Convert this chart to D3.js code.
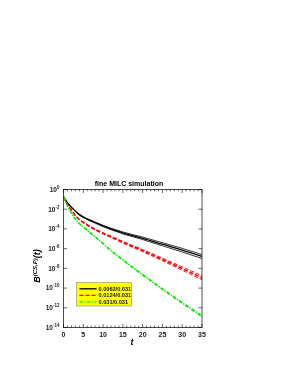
<!DOCTYPE html>
<html>
<head>
<meta charset="utf-8">
<script src="https://cdn.jsdelivr.net/npm/d3@7"></script>
<style>
  body { margin: 0; background: #fff; }
  svg { display: block; font-family: "Liberation Sans", Arial, sans-serif; will-change: transform; }
</style>
</head>
<body>
<div id="chart"></div>
<script>
// time slices
const tVals = [0, 1, 2, 3, 4, 5, 6, 8, 10, 12, 15, 20, 25, 30, 35];

// 0.0062/0.031 : central + two error band lines
const blackMid  = [1.78e-1, 4.47e-2, 1.58e-2, 6.31e-3, 2.82e-3, 1.58e-3, 1.0e-3, 4.47e-4, 2.0e-4, 1.0e-4, 3.98e-5, 1.12e-5, 2.82e-6, 7.08e-7, 1.58e-7];
const blackHigh = [1.78e-1, 4.47e-2, 1.58e-2, 6.61e-3, 3.02e-3, 1.74e-3, 1.10e-3, 5.01e-4, 2.24e-4, 1.17e-4, 4.90e-5, 1.48e-5, 3.98e-6, 1.07e-6, 2.51e-7];
const blackLow  = [1.78e-1, 4.37e-2, 1.51e-2, 6.03e-3, 2.63e-3, 1.45e-3, 8.91e-4, 3.89e-4, 1.70e-4, 8.32e-5, 3.16e-5, 8.32e-6, 1.95e-6, 4.57e-7, 1.0e-7];

// 0.0124/0.031
const redMid  = [1.78e-1, 3.16e-2, 7.94e-3, 2.24e-3, 8.91e-4, 4.47e-4, 2.51e-4, 8.91e-5, 3.55e-5, 1.58e-5, 4.47e-6, 6.31e-7, 7.94e-8, 9.55e-9, 1.12e-9];
const redHigh = [1.78e-1, 3.16e-2, 8.13e-3, 2.34e-3, 9.55e-4, 4.79e-4, 2.75e-4, 1.0e-4, 4.07e-5, 1.86e-5, 5.37e-6, 8.13e-7, 1.10e-7, 1.41e-8, 1.78e-9];
const redLow  = [1.78e-1, 3.16e-2, 7.76e-3, 2.14e-3, 8.32e-4, 4.17e-4, 2.29e-4, 7.94e-5, 3.09e-5, 1.35e-5, 3.72e-6, 4.90e-7, 5.75e-8, 6.46e-9, 7.08e-10];

// 0.031/0.031
const greenMid  = [1.78e-1, 2.24e-2, 3.98e-3, 1.0e-3, 3.55e-4, 1.58e-4, 7.08e-5, 1.58e-5, 3.16e-6, 6.31e-7, 7.08e-8, 2.24e-9, 7.94e-11, 3.16e-12, 1.41e-13];
const greenHigh = [1.78e-1, 2.24e-2, 3.98e-3, 1.02e-3, 3.63e-4, 1.66e-4, 7.41e-5, 1.66e-5, 3.39e-6, 6.76e-7, 7.76e-8, 2.51e-9, 9.12e-11, 3.72e-12, 1.70e-13];
const greenLow  = [1.78e-1, 2.24e-2, 3.98e-3, 9.77e-4, 3.47e-4, 1.51e-4, 6.76e-5, 1.51e-5, 2.95e-6, 5.89e-7, 6.46e-8, 2.0e-9, 6.92e-11, 2.69e-12, 1.17e-13];

const seriesNames = ["0.0062/0.031", "0.0124/0.031", "0.031/0.031"];
const xTicks = [0, 5, 10, 15, 20, 25, 30, 35];
const yExponents = [0, -2, -4, -6, -8, -10, -12, -14];

const W = 295, H = 382;
const pLeft = 63.5, pRight = 202, pTop = 189.5, pBottom = 327.5;

const svg = d3.select("#chart").append("svg").attr("width", W).attr("height", H);

const x = d3.scaleLinear().domain([0, 35]).range([pLeft, pRight]);
const y = d3.scaleLog().domain([1, 1e-14]).range([pTop, pBottom]);

// ticks, pointing inward (bottom/top/left/right)
const minorX = d3.range(0, 36, 1);
const gAx = svg.append("g").attr("stroke", "#000").attr("stroke-width", 0.6);
minorX.forEach(v => {
  const len = (v % 5 === 0) ? 3.5 : 1.8;
  gAx.append("line").attr("x1", x(v)).attr("x2", x(v)).attr("y1", pBottom).attr("y2", pBottom - len);
  gAx.append("line").attr("x1", x(v)).attr("x2", x(v)).attr("y1", pTop).attr("y2", pTop + len);
});
yExponents.forEach(e => {
  const yy = y(Math.pow(10, e));
  gAx.append("line").attr("x1", pLeft).attr("x2", pLeft + 3.5).attr("y1", yy).attr("y2", yy);
  gAx.append("line").attr("x1", pRight).attr("x2", pRight - 3.5).attr("y1", yy).attr("y2", yy);
});

// x labels
svg.append("g").selectAll("text").data(xTicks).enter().append("text")
  .attr("x", d => x(d)).attr("y", pBottom + 9.5)
  .attr("text-anchor", "middle").attr("font-size", "7px").attr("font-weight", "bold")
  .attr("fill", "#222").text(d => d);

// y labels 10^e
const yl = svg.append("g").selectAll("text").data(yExponents).enter().append("text")
  .attr("x", pLeft - 4).attr("y", d => y(Math.pow(10, d)) + 2.3)
  .attr("text-anchor", "end").attr("font-size", "6.5px").attr("font-weight", "bold").attr("fill", "#222");
yl.append("tspan").text("10");
yl.append("tspan").attr("dy", -3).attr("font-size", "4.5px").text(d => d);

// curves
const line = d3.line().x((d, i) => x(tVals[i])).y(d => y(d)).curve(d3.curveMonotoneX);
svg.append("clipPath").attr("id", "clip").append("rect")
  .attr("x", pLeft).attr("y", pTop).attr("width", pRight - pLeft).attr("height", pBottom - pTop);
const gC = svg.append("g").attr("clip-path", "url(#clip)").attr("fill", "none");

const curves = [
  { d: blackLow, c: "#000", w: 0.8, dash: null },
  { d: blackHigh, c: "#000", w: 0.8, dash: null },
  { d: blackMid, c: "#000", w: 1.3, dash: null },
  { d: redLow, c: "#ff0000", w: 0.9, dash: "4,2" },
  { d: redHigh, c: "#ff0000", w: 0.9, dash: "4,2" },
  { d: redMid, c: "#ff0000", w: 1.6, dash: "4,2" },
  { d: greenLow, c: "#00ee00", w: 0.9, dash: "3.5,1.5,1,1.5" },
  { d: greenHigh, c: "#00ee00", w: 0.9, dash: "3.5,1.5,1,1.5" },
  { d: greenMid, c: "#00ee00", w: 1.6, dash: "3.5,1.5,1,1.5" }
];
curves.forEach(s => {
  gC.append("path").attr("d", line(s.d)).attr("stroke", s.c)
    .attr("stroke-width", s.w).attr("stroke-dasharray", s.dash);
});

// frame
svg.append("rect").attr("x", pLeft).attr("y", pTop).attr("width", pRight - pLeft).attr("height", pBottom - pTop)
  .attr("fill", "none").attr("stroke", "#000").attr("stroke-width", 0.7);

// legend
const lg = svg.append("g");
lg.append("rect").attr("x", 76.5).attr("y", 282.5).attr("width", 55).attr("height", 23.5)
  .attr("fill", "#ffff00").attr("stroke", "#777").attr("stroke-width", 0.5);
const legStyles = [
  { c: "#000", dash: null },
  { c: "#ff0000", dash: "4,2" },
  { c: "#00ee00", dash: "3.5,1.5,1,1.5" }
];
seriesNames.forEach((n, i) => {
  const yy = 288.8 + i * 6.5;
  lg.append("line").attr("x1", 79.5).attr("x2", 96.5).attr("y1", yy).attr("y2", yy)
    .attr("stroke", legStyles[i].c).attr("stroke-width", 1.3).attr("stroke-dasharray", legStyles[i].dash);
  lg.append("text").attr("x", 98.5).attr("y", yy + 2).attr("font-size", "5.6px")
    .attr("font-weight", "bold").attr("fill", "#111").text(n);
});

// titles
svg.append("text").attr("x", 129).attr("y", 185.5).attr("text-anchor", "middle")
  .attr("font-size", "7px").attr("font-weight", "bold").attr("fill", "#000").text("fine MILC simulation");
svg.append("text").attr("x", 132).attr("y", 345).attr("text-anchor", "middle")
  .attr("font-size", "9px").attr("font-style", "italic").attr("font-weight", "bold").text("t");
const ylab = svg.append("text").attr("transform", "translate(40,266) rotate(-90)")
  .attr("text-anchor", "middle").attr("font-size", "9px").attr("font-style", "italic").attr("font-weight", "bold");
ylab.append("tspan").text("B");
ylab.append("tspan").attr("dy", -3.5).attr("font-size", "6px").text("(CS,P)");
ylab.append("tspan").attr("dy", 3.5).text("(t)");
</script>
</body>
</html>
